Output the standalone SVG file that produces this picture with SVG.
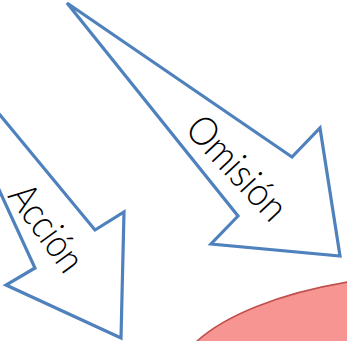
<svg xmlns="http://www.w3.org/2000/svg" width="347" height="341" viewBox="0 0 347 341">
<style>
.arrow{fill:#ffffff;stroke:#4f81bd;stroke-width:3.2;stroke-linejoin:miter}
.lbl{font-family:Lato,"Open Sans","Liberation Sans",sans-serif;font-size:40px;font-weight:300;fill:#000;text-anchor:middle;dominant-baseline:central}
</style>
<rect width="347" height="341" fill="#ffffff"/>
<g id="target">
<ellipse cx="459" cy="388" rx="287" ry="115" fill="#f79593" stroke="#c0504d" stroke-width="1.5"/>
</g>
<g id="connectors">
<g id="omision">
<polygon class="arrow" points="67,3 292,157 320,128 340,256 211,244 238,216"/>
<text class="lbl" transform="translate(238,167) rotate(47)" textLength="128" lengthAdjust="spacingAndGlyphs">Omisión</text>
</g>
<g id="accion">
<polygon class="arrow" points="-80,18 95,230 124,212 121,338 6,285 35,268"/>
<text class="lbl" transform="translate(48,227) rotate(54)" textLength="98" lengthAdjust="spacingAndGlyphs">Acción</text>
</g>
</g>
</svg>
